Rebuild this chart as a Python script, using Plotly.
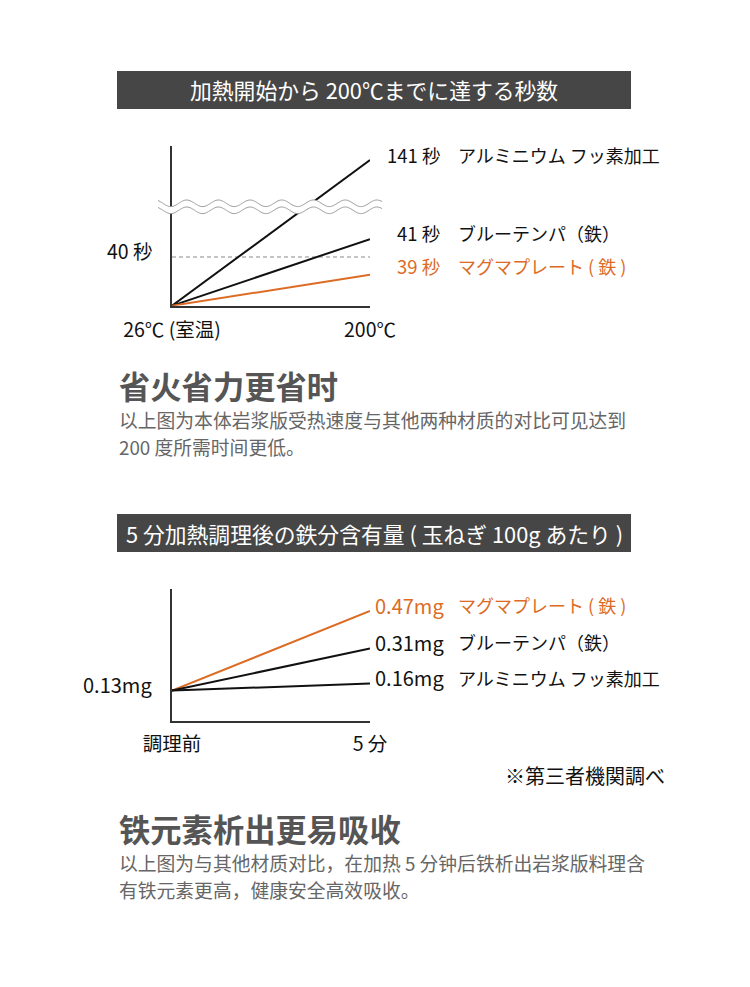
import numpy as np
import plotly.graph_objects as go

W, H = 750, 987
JP = 'Noto Sans CJK JP'
SC = 'Noto Sans CJK SC'
ORANGE = '#dc6b24'
INK = '#111111'

# chart 1: seconds needed to heat from room temperature to 200C
heat_temps = [26, 200]
heat_temp_labels = ['26℃ (室温)', '200℃']
heat_seconds = [141, 41, 39]
heat_labels = ['141 秒', '41 秒', '39 秒']
heat_names = ['アルミニウム フッ素加工', 'ブルーテンパ（鉄）', 'マグマプレート ( 鉄 )']
heat_ref_seconds = 40
heat_ref_label = '40 秒'

# y axis is zoomed on 37-46 s and broken above 42.8 s
heat_axis_range = [37.27, 46.22]
heat_break_at = 42.8
heat_break_scale = 0.0268

# chart 2: iron content of 100g onion after 5 min cooking
iron_minutes = [0, 5]
iron_time_labels = ['調理前', '5 分']
iron_before = 0.13
iron_after = [0.47, 0.31, 0.16]
iron_labels = ['0.47mg', '0.31mg', '0.16mg']
iron_names = ['マグマプレート ( 鉄 )', 'ブルーテンパ（鉄）', 'アルミニウム フッ素加工']
iron_axis_range = [0, 0.564]

heat_colors = [INK, INK, ORANGE]
iron_colors = [ORANGE, INK, INK]


def px(x):
    return x / W


def py(y):
    return 1 - y / H


def broken(v):
    if v <= heat_break_at:
        return v
    return heat_break_at + (v - heat_break_at) * heat_break_scale


fig = go.Figure()

# chart 1
fig.add_trace(go.Scatter(x=heat_temps, y=[heat_ref_seconds] * 2, mode='lines',
                         line=dict(color='#8a8a8a', width=1, dash='4px,3px'),
                         xaxis='x', yaxis='y', hoverinfo='skip'))
for s, c in zip(heat_seconds, heat_colors):
    fig.add_trace(go.Scatter(x=heat_temps, y=[heat_axis_range[0], broken(s)], mode='lines',
                             line=dict(color=c, width=2), xaxis='x', yaxis='y'))

# chart 2
for v, c in zip(iron_after, iron_colors):
    fig.add_trace(go.Scatter(x=iron_minutes, y=[iron_before, v], mode='lines',
                             line=dict(color=c, width=2), xaxis='x2', yaxis='y2'))

axis_common = dict(showgrid=False, zeroline=False, showline=True, linecolor='#333333',
                   linewidth=1.5, fixedrange=True, ticks='', automargin=False)
tick_font = dict(family=JP, size=19.5, color=INK)
fig.update_layout(
    width=W, height=H,
    margin=dict(l=0, r=0, t=0, b=0, autoexpand=False),
    paper_bgcolor='white', plot_bgcolor='white',
    showlegend=False,
    xaxis=dict(axis_common, domain=[px(172), px(370)], range=heat_temps,
               tickvals=heat_temps, ticktext=heat_temp_labels,
               tickfont=tick_font, ticklabelstandoff=6, anchor='y'),
    yaxis=dict(axis_common, domain=[py(305.7), py(146)], range=heat_axis_range,
               showticklabels=False, anchor='x'),
    xaxis2=dict(axis_common, domain=[px(172), px(370)], range=iron_minutes,
                tickvals=iron_minutes, ticktext=iron_time_labels,
                tickfont=tick_font, ticklabelstandoff=5, anchor='y2'),
    yaxis2=dict(axis_common, domain=[py(721), py(589)], range=iron_axis_range,
                showticklabels=False, anchor='x2'),
)

ann = []

# banners
banners = [('加熱開始から 200℃までに達する秒数', 71, 109),
           ('5 分加熱調理後の鉄分含有量 ( 玉ねぎ 100g あたり )', 514, 552)]
for text, top, bottom in banners:
    fig.add_shape(type='rect', xref='paper', yref='paper', x0=px(117), x1=px(631),
                  y0=py(bottom), y1=py(top), fillcolor='#464646', line_width=0, layer='below')
    ann.append(dict(text=text, xref='paper', yref='paper', x=px(374), y=py((top + bottom) / 2),
                    xanchor='center', yanchor='middle', showarrow=False,
                    font=dict(family=JP, size=21.8, color='white')))

# chart 1 labels
heat_lift = [5, 6, 8.7]
for s, lab, name, c, lift in zip(heat_seconds, heat_labels, heat_names, heat_colors, heat_lift):
    ann.append(dict(text=lab, xref='x', yref='y', x=heat_temps[1], y=broken(s), xshift=72, yshift=lift,
                    xanchor='right', yanchor='middle', showarrow=False,
                    font=dict(family=JP, size=18.5, color=c)))
    ann.append(dict(text=name, xref='x', yref='y', x=heat_temps[1], y=broken(s), xshift=86, yshift=lift,
                    xanchor='left', yanchor='middle', showarrow=False,
                    font=dict(family=JP, size=18, color=c)))
ann.append(dict(text=heat_ref_label, xref='x', yref='y', x=heat_temps[0], y=heat_ref_seconds,
                xshift=-17, yshift=6.3, xanchor='right', yanchor='middle', showarrow=False,
                font=dict(family=JP, size=19.5, color=INK)))

# chart 2 labels
for v, lab, name, c in zip(iron_after, iron_labels, iron_names, iron_colors):
    ann.append(dict(text=lab, xref='x2', yref='y2', x=iron_minutes[1], y=v, xshift=76, yshift=6,
                    xanchor='right', yanchor='middle', showarrow=False,
                    font=dict(family=JP, size=20, color=c)))
    ann.append(dict(text=name, xref='x2', yref='y2', x=iron_minutes[1], y=v, xshift=86, yshift=6,
                    xanchor='left', yanchor='middle', showarrow=False,
                    font=dict(family=JP, size=18, color=c)))
ann.append(dict(text=f'{iron_before}mg', xref='x2', yref='y2', x=iron_minutes[0], y=iron_before,
                xshift=-18, yshift=5.7, xanchor='right', yanchor='middle', showarrow=False,
                font=dict(family=JP, size=20, color=INK)))
ann.append(dict(text='※第三者機関調べ', xref='paper', yref='paper', x=px(667), y=py(775),
                xanchor='right', yanchor='middle', showarrow=False,
                font=dict(family=JP, size=20, color=INK)))

# captions
captions = [('省火省力更省时', 385, ['以上图为本体岩浆版受热速度与其他两种材质的对比可见达到',
                                     '200 度所需时间更低。'], 419),
            ('铁元素析出更易吸收', 828, ['以上图为与其他材质对比，在加热 5 分钟后铁析出岩浆版料理含',
                                         '有铁元素更高，健康安全高效吸收。'], 862)]
for title, ty, lines, ly in captions:
    ann.append(dict(text=title, xref='paper', yref='paper', x=px(117), y=py(ty),
                    xanchor='left', yanchor='middle', showarrow=False,
                    font=dict(family=SC, size=31.3, color='#555555', weight=700)))
    for i, line in enumerate(lines):
        ann.append(dict(text=line, xref='paper', yref='paper', x=px(117), y=py(ly + 27 * i),
                        xanchor='left', yanchor='middle', showarrow=False,
                        font=dict(family=SC, size=18.8, color='#666666')))

fig.update_layout(annotations=ann)

# axis break mark on chart 1
wx = np.linspace(158, 382, 240)
upper = 203.3 - 3.3 * np.cos(2 * np.pi * (wx - 186.7) / 31.7)
lower = upper + 7


def path_of(xs, ys, close=False):
    pts = ['%s%.5f,%.5f' % ('M' if i == 0 else 'L', px(a), py(b)) for i, (a, b) in enumerate(zip(xs, ys))]
    return ' '.join(pts) + (' Z' if close else '')


fig.add_shape(type='path', xref='paper', yref='paper', layer='above',
              path=path_of(np.concatenate([wx, wx[::-1]]), np.concatenate([upper, lower[::-1]]), True),
              fillcolor='white', line_width=0)
for edge in (upper, lower):
    fig.add_shape(type='path', xref='paper', yref='paper', layer='above',
                  path=path_of(wx, edge), line=dict(color='#9a9a9a', width=1))

fig.write_html('out.html', config={'displayModeBar': False},
               post_script="document.body.style.margin='0';")
